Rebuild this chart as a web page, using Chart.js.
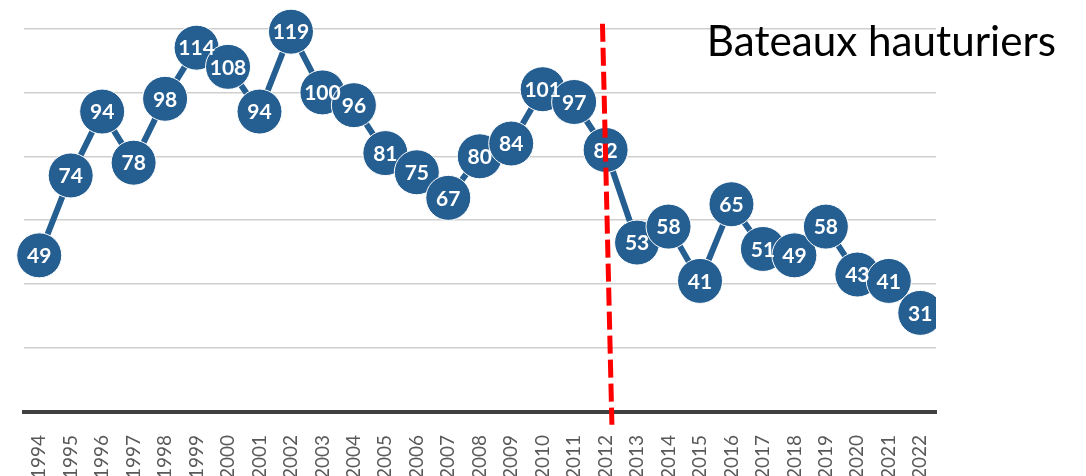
<!DOCTYPE html>
<html>
<head>
<meta charset="utf-8">
<script src="https://cdn.jsdelivr.net/npm/chart.js@4.4.1/dist/chart.umd.min.js"></script>
<style>
  html, body { margin: 0; padding: 0; background: #fff; }
  #wrap { width: 1086px; height: 476px; position: relative; }
</style>
</head>
<body>
<div id="wrap"><canvas id="boats"></canvas></div>
<script>
// Data
const years = ['1994','1995','1996','1997','1998','1999','2000','2001','2002','2003',
  '2004','2005','2006','2007','2008','2009','2010','2011','2012','2013',
  '2014','2015','2016','2017','2018','2019','2020','2021','2022'];
const boats = [49, 74, 94, 78, 98, 114, 108, 94, 119, 100,
  96, 81, 75, 67, 80, 84, 101, 97, 82, 53,
  58, 41, 65, 51, 49, 58, 43, 41, 31];
const yTicks = [0, 20, 40, 60, 80, 100, 120];
const chartTitle = 'Bateaux hauturiers';
// dashed marker line around 2012: [category index, value] at top and bottom
const markerTop = [17.9, 121.5];
const markerBottom = [18.2, -4];

const blue = '#255E91';

// white value labels on each point
const pointLabels = {
  id: 'pointLabels',
  afterDatasetsDraw(chart) {
    const ctx = chart.ctx;
    const meta = chart.getDatasetMeta(0);
    ctx.save();
    ctx.fillStyle = '#fff';
    ctx.font = 'bold 21px Lato';
    ctx.textAlign = 'center';
    ctx.textBaseline = 'middle';
    meta.data.forEach((pt, i) => {
      ctx.fillText(String(boats[i]), pt.x, pt.y + 1);
    });
    ctx.restore();
  }
};

// red dashed line + title
const extras = {
  id: 'extras',
  afterDraw(chart) {
    const ctx = chart.ctx;
    const x = chart.scales.x, y = chart.scales.y;
    ctx.save();
    ctx.strokeStyle = '#ff0000';
    ctx.lineWidth = 5;
    ctx.setLineDash([18, 6]);
    ctx.beginPath();
    ctx.moveTo(x.getPixelForValue(markerTop[0]), y.getPixelForValue(markerTop[1]));
    ctx.lineTo(x.getPixelForValue(markerBottom[0]), y.getPixelForValue(markerBottom[1]));
    ctx.stroke();
    ctx.setLineDash([]);

    // title, fitted to the width it takes in the reference
    ctx.fillStyle = '#000';
    ctx.font = '40px Lato';
    const w = ctx.measureText(chartTitle).width;
    const size = 40 * 349 / w;
    ctx.font = size.toFixed(1) + 'px Lato';
    ctx.textAlign = 'right';
    ctx.textBaseline = 'alphabetic';
    ctx.fillText(chartTitle, chart.width - 30, 56);
    ctx.restore();
  }
};

new Chart(document.getElementById('boats'), {
  type: 'line',
  data: {
    labels: years,
    datasets: [{
      data: boats,
      borderColor: blue,
      borderWidth: 6,
      backgroundColor: blue,
      pointBackgroundColor: blue,
      pointBorderColor: '#fff',
      pointBorderWidth: 1,
      pointRadius: 22.5,
      pointHoverRadius: 22.5,
      tension: 0,
      clip: { left: false, top: false, right: 0, bottom: false }
    }]
  },
  options: {
    responsive: true,
    maintainAspectRatio: false,
    animation: false,
    events: [],
    layout: { padding: { left: 23, right: 150, top: 28.5, bottom: -26 } },
    plugins: {
      legend: { display: false },
      tooltip: { enabled: false }
    },
    scales: {
      x: {
        offset: true,
        grid: { display: false, drawTicks: false },
        border: { color: '#404040', width: 4 },
        ticks: {
          color: '#595959',
          font: { family: 'Lato', size: 19 },
          minRotation: 90,
          maxRotation: 90,
          padding: 23,
          autoSkip: false
        }
      },
      y: {
        min: 0,
        max: 120,
        afterBuildTicks: (axis) => { axis.ticks = yTicks.map(v => ({ value: v })); },
        grid: { color: '#cfcfcf', lineWidth: 1.5, drawTicks: false },
        border: { display: false },
        ticks: { display: false }
      }
    }
  },
  plugins: [pointLabels, extras]
});
</script>
</body>
</html>
